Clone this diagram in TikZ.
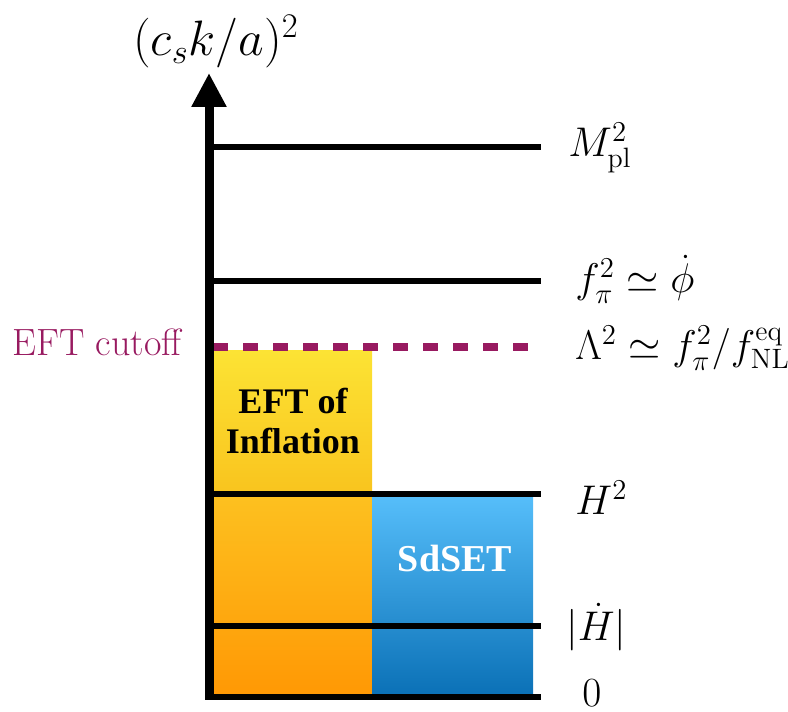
\documentclass[tikz,border=0pt]{standalone}
\usepackage{fontspec}
\usetikzlibrary{arrows.meta}
\newfontfamily\boldserif{Liberation Serif}
\definecolor{cutpurple}{RGB}{152,26,96}
\definecolor{yeltop}{RGB}{252,227,52}
\definecolor{yelbot}{RGB}{249,196,30}
\definecolor{ortop}{RGB}{253,193,32}
\definecolor{orbot}{RGB}{255,152,4}
\definecolor{bltop}{RGB}{86,190,250}
\definecolor{blbot}{RGB}{10,112,182}
\tikzset{
  level/.style={line width=3pt, black},
  axisline/.style={line width=4.5pt, black, -{Triangle[width=16.5pt,length=17pt]}},
  cutline/.style={line width=4pt, cutpurple, dash pattern=on 7.5pt off 7.5pt},
  lab/.style={anchor=base west, inner sep=0pt, font=\fontsize{20}{24}\selectfont},
  boxtext/.style={inner sep=0pt, align=center, font=\boldserif\bfseries\fontsize{18}{20}\selectfont}
}
\begin{document}
\begin{tikzpicture}[x=0.5pt,y=0.5pt]
\useasboundingbox (0,0) rectangle (788,712);
% regions
\shade[top color=yeltop, bottom color=yelbot] (213,219) rectangle (372,361);
\shade[top color=ortop, bottom color=orbot] (213,15) rectangle (372,219);
\shade[top color=bltop, bottom color=blbot] (372,15) rectangle (533,216);
% coordinates
\coordinate (a0) at (209,15);   \coordinate (b0) at (541,15);
\coordinate (a1) at (209,86);   \coordinate (b1) at (541,86);
\coordinate (a2) at (209,218);  \coordinate (b2) at (541,218);
\coordinate (a3) at (209,431);  \coordinate (b3) at (541,431);
\coordinate (a4) at (209,565);  \coordinate (b4) at (541,565);
\coordinate (c1) at (213,364.5); \coordinate (c2) at (533,364.5);
\coordinate (axbot) at (209,12); \coordinate (axtop) at (209,639);
% levels
\draw[level] (a0) -- (b0);
\draw[level] (a1) -- (b1);
\draw[level] (a2) -- (b2);
\draw[level] (a3) -- (b3);
\draw[level] (a4) -- (b4);
\draw[cutline] (c1) -- (c2);
\draw[axisline] (axbot) -- (axtop);
% labels
\node[inner sep=0pt, anchor=base, font=\fontsize{23.5}{27}\selectfont] (ax) at (216,656) {$(c_s k/a)^2$};
\node[lab] (lmpl) at (568,555) {$M_{\rm pl}^2$};
\node[lab] (lfpi) at (575,419) {$f_\pi^2 \simeq \dot\phi$};
\node[lab] (llam) at (575,352) {$\Lambda^2 \simeq f_\pi^2/f_{\rm NL}^{\rm eq}$};
\node[lab] (lH) at (575,197) {$H^2$};
\node[lab] (lHd) at (566,71) {$|\dot H|$};
\node[lab] (lz) at (582,5) {$0$};
\node[anchor=base west, inner sep=0pt, text=cutpurple, font=\fontsize{19}{22}\selectfont] (cut) at (12,356) {EFT cutoff};
\node[boxtext] (eft) at (293,291) {EFT of\\Inflation};
\node[boxtext, text=white, font=\boldserif\bfseries\fontsize{19}{22}\selectfont] (sd) at (455,153) {SdSET};
\end{tikzpicture}
\end{document}
